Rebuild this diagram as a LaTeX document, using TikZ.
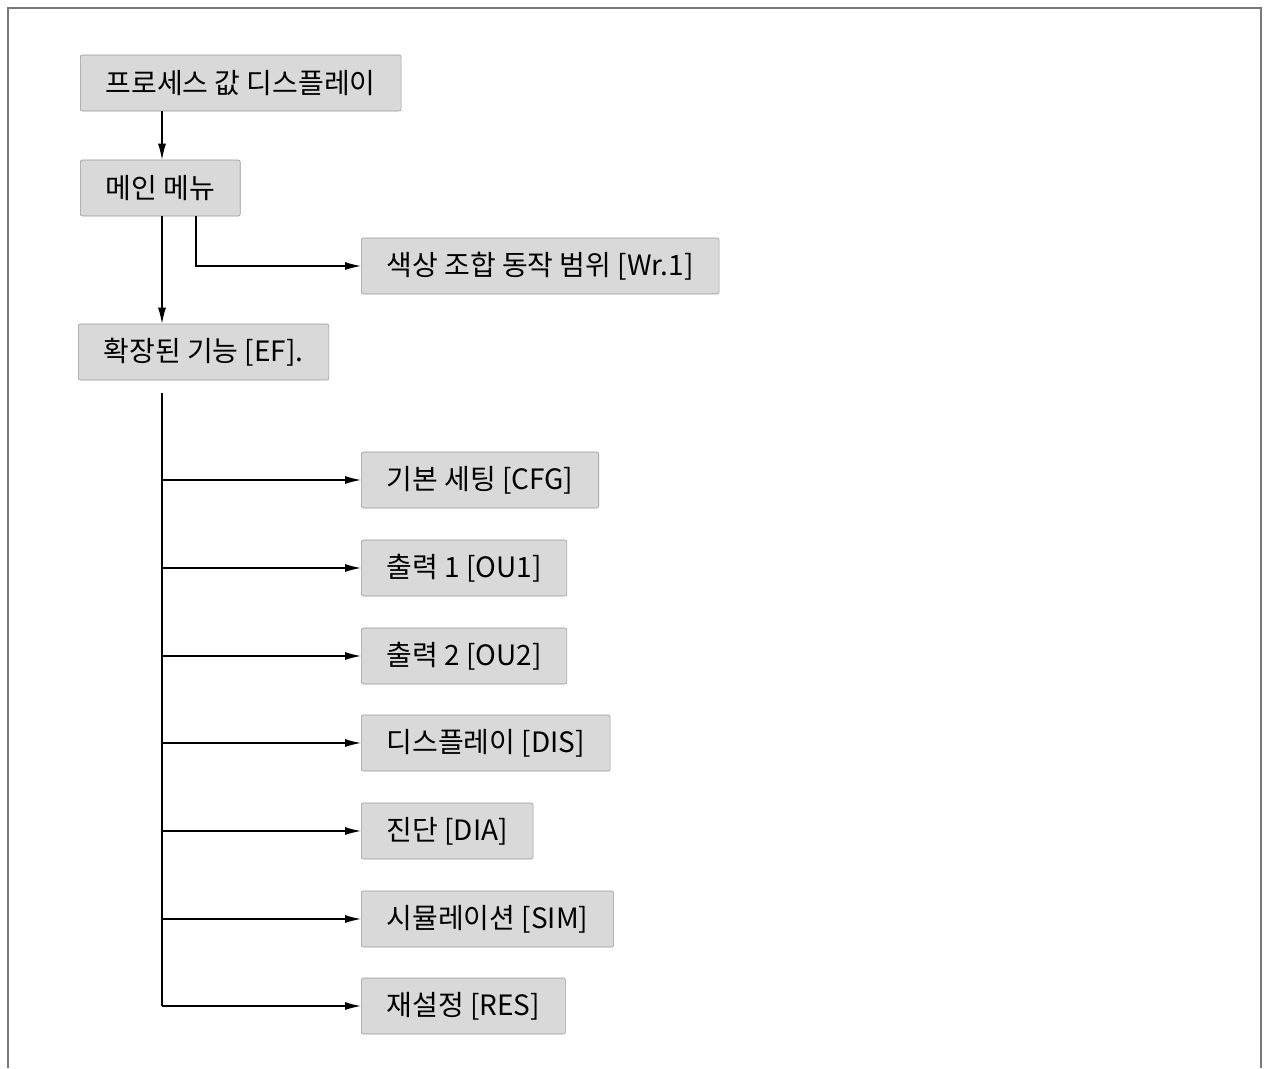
\documentclass[tikz,border=0pt]{standalone}
\usepackage{fontspec}
\setmainfont{Liberation Sans}
\newfontfamily\cjk{Noto Sans CJK KR}
\usetikzlibrary{arrows.meta}
\begin{document}
\begin{tikzpicture}[x=0.75pt,y=0.75pt,yscale=-1,
  menu/.style={draw={rgb,255:red,150;green,150;blue,150},fill={rgb,255:red,217;green,217;blue,217},
    rounded corners=1.5pt,anchor=west,minimum height=42pt,inner xsep=19pt,
    font=\fontsize{21}{24}\selectfont\cjk},
  link/.style={line width=0.9pt,-{Latex[length=12pt,width=6pt]}}]
\useasboundingbox (0,0) rectangle (1268,1068);
% frame
\draw[line width=0.8pt,color={rgb,255:red,120;green,120;blue,120}] (8,1068) -- (8,8) -- (1261,8) -- (1261,1068);

% top chain
\node[menu] (pv) at (80,83) {프로세스 값 디스플레이};
\node[menu] (mm) at (80,188) {메인 메뉴};
\node[menu] (wr) at (361,266) {색상 조합 동작 범위 [Wr.1]};
\node[menu] (ef) at (78,352) {확장된 기능 [EF].};

% sub menus
\node[menu] (cfg) at (361,480) {기본 세팅 [CFG]};
\node[menu] (ou1) at (361,568) {출력 1 [OU1]};
\node[menu] (ou2) at (361,656) {출력 2 [OU2]};
\node[menu] (dis) at (361,743) {디스플레이 [DIS]};
\node[menu] (dia) at (361,831) {진단 [DIA]};
\node[menu] (sim) at (361,919) {시뮬레이션 [SIM]};
\node[menu] (res) at (361,1006) {재설정 [RES]};

\draw[link] (pv.south -| 162,0) -- (mm.north -| 162,0);
\draw[link] (mm.south -| 162,0) -- (ef.north -| 162,0);
\draw[link] (mm.south -| 196,0) |- (wr.west);

\coordinate (bus) at (162,393);
\draw[line width=0.9pt] (bus) -- (162,1006);
\foreach \n in {cfg,ou1,ou2,dis,dia,sim,res}
  \draw[link] (\n.west -| bus) -- (\n.west);
\end{tikzpicture}
\end{document}
